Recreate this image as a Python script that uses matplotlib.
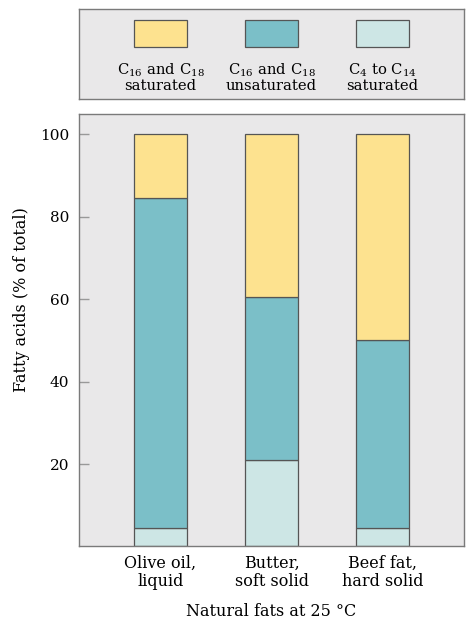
import numpy as np
import matplotlib.pyplot as plt
from matplotlib.patches import Rectangle

plt.rcParams['font.family'] = ['DejaVu Serif']
plt.rcParams['mathtext.fontset'] = 'dejavuserif'

fats = ['Olive oil,\nliquid', 'Butter,\nsoft solid', 'Beef fat,\nhard solid']
short_sat = np.array([4.5, 21.0, 4.5])       # C4 to C14 saturated
long_unsat = np.array([80.0, 39.5, 45.5])    # C16 and C18 unsaturated
long_sat = np.array([15.5, 39.5, 50.0])      # C16 and C18 saturated

series_labels = ['C$_{16}$ and C$_{18}$\nsaturated',
                 'C$_{16}$ and C$_{18}$\nunsaturated',
                 'C$_{4}$ to C$_{14}$\nsaturated']
colors = ['#fde28f', '#7bbfc8', '#cde6e5']

bg = '#e9e8e9'
edge = '#555555'
spine = '#7a7a7a'
w = 0.48

fig = plt.figure(figsize=(4.76, 6.21), dpi=100)
ax = fig.add_axes([0.166, 0.12, 0.809, 0.6966])
ax.set_facecolor(bg)

x = np.arange(len(fats))
ax.bar(x, short_sat, w, color=colors[2], edgecolor=edge, linewidth=0.9)
ax.bar(x, long_unsat, w, bottom=short_sat, color=colors[1], edgecolor=edge, linewidth=0.9)
ax.bar(x, long_sat, w, bottom=short_sat + long_unsat, color=colors[0], edgecolor=edge, linewidth=0.9)

ax.set_xlim(-0.734, 2.734)
ax.set_ylim(0, 105)
ax.set_yticks([20, 40, 60, 80, 100])
ax.set_xticks(x)
ax.set_xticklabels(fats, fontsize=11.5, linespacing=1.1)
ax.tick_params(axis='x', length=0, pad=6)
ax.tick_params(axis='y', labelsize=11, direction='in', length=7,
               width=1, color='#999999', pad=7)
for s in ax.spines.values():
    s.set_color(spine)
    s.set_linewidth(1)
ax.set_ylabel('Fatty acids (% of total)', fontsize=11.5)
ax.yaxis.set_label_coords(-0.128, 0.57)
ax.set_xlabel('Natural fats at 25 °C', fontsize=11.5, labelpad=9)

# legend panel
lg = fig.add_axes([0.166, 0.8406, 0.809, 0.145])
lg.set_facecolor(bg)
lg.set_xlim(-0.734, 2.734)
lg.set_ylim(0, 1)
lg.set_xticks([])
lg.set_yticks([])
for s in lg.spines.values():
    s.set_color(spine)
    s.set_linewidth(1)
for i, (lab, c) in enumerate(zip(series_labels, colors)):
    lg.add_patch(Rectangle((i - w / 2, 0.578), w, 0.3, facecolor=c,
                           edgecolor=edge, linewidth=0.9))
    lg.text(i, 0.42, lab, ha='center', va='top', fontsize=10.6, linespacing=1.05)

fig.savefig('out.png', dpi=100)
